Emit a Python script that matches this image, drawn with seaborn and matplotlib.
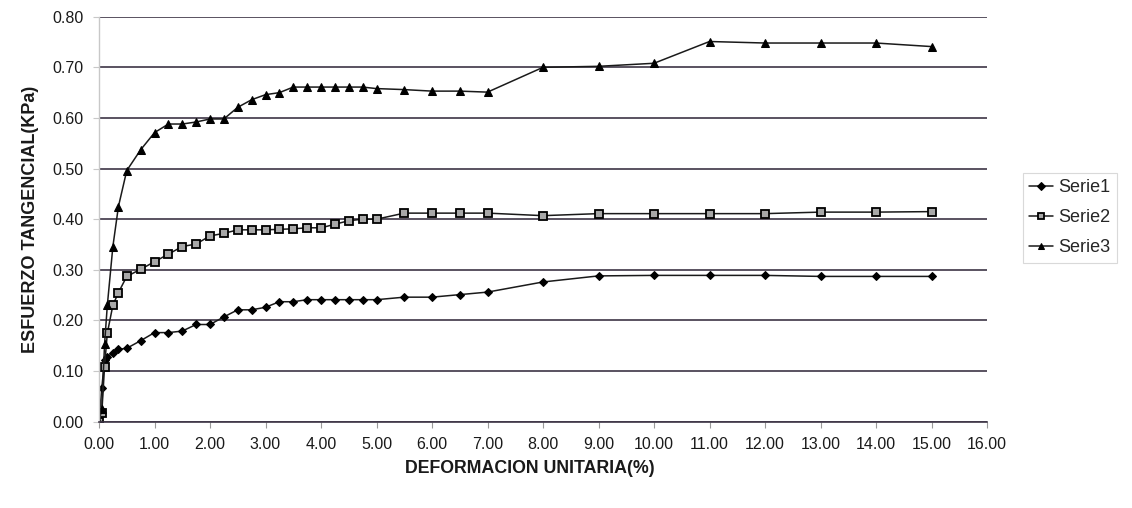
import matplotlib
matplotlib.use("Agg")
import matplotlib.pyplot as plt
import seaborn as sns
import pandas as pd
from matplotlib.ticker import MultipleLocator, FormatStrFormatter

# Deformación unitaria (%) shared by the three shear tests
deformacion = [0, 0.05, 0.1, 0.15, 0.25, 0.35, 0.5,
               0.75, 1.0, 1.25, 1.5, 1.75, 2.0, 2.25, 2.5, 2.75, 3.0, 3.25, 3.5,
               3.75, 4.0, 4.25, 4.5, 4.75, 5.0,
               5.5, 6.0, 6.5, 7.0,
               8, 9, 10, 11, 12, 13, 14, 15]

# Esfuerzo tangencial (kPa) for each series
serie1 = [0, 0.066, 0.122, 0.128, 0.136, 0.143, 0.145,
          0.160, 0.176, 0.176, 0.179, 0.192, 0.192, 0.207, 0.221, 0.221, 0.226, 0.237, 0.237,
          0.241, 0.241, 0.241, 0.241, 0.241, 0.241,
          0.246, 0.246, 0.251, 0.256,
          0.276, 0.288, 0.289, 0.289, 0.289, 0.287, 0.287, 0.287]
serie2 = [0, 0.017, 0.109, 0.175, 0.230, 0.255, 0.287,
          0.301, 0.316, 0.331, 0.346, 0.351, 0.367, 0.372, 0.379, 0.379, 0.379, 0.380, 0.381,
          0.383, 0.383, 0.390, 0.397, 0.400, 0.400,
          0.412, 0.412, 0.412, 0.412,
          0.407, 0.411, 0.411, 0.411, 0.411, 0.414, 0.414, 0.415]
serie3 = [0, 0.025, 0.153, 0.230, 0.346, 0.425, 0.496,
          0.537, 0.571, 0.588, 0.588, 0.592, 0.598, 0.598, 0.621, 0.636, 0.646, 0.650, 0.661,
          0.661, 0.661, 0.661, 0.661, 0.661, 0.658,
          0.656, 0.653, 0.653, 0.651,
          0.700, 0.702, 0.708, 0.751, 0.748, 0.748, 0.748, 0.741]

nombres = ["Serie1", "Serie2", "Serie3"]
xlabel = "DEFORMACION UNITARIA(%)"
ylabel = "ESFUERZO TANGENCIAL(KPa)"

sns.set_theme(style="white")
plt.rcParams["font.family"] = ["Liberation Sans", "DejaVu Sans"]

fig = plt.figure(figsize=(11.32, 5.08), dpi=100)
ax = fig.add_axes([99 / 1132, 1 - 421.7 / 508, (987 - 99) / 1132, (421.7 - 16.7) / 508])

estilos = {
    "Serie1": dict(marker="D", markersize=4.5, markerfacecolor="black", markeredgecolor="black"),
    "Serie2": dict(marker="s", markersize=5.2, markerfacecolor="#a8a8a8", markeredgecolor="black",
                   markeredgewidth=1.3),
    "Serie3": dict(marker="^", markersize=6, markerfacecolor="black", markeredgecolor="black"),
}

for nombre, valores in zip(nombres, [serie1, serie2, serie3]):
    df = pd.DataFrame({"x": deformacion, "y": valores})
    sns.lineplot(data=df, x="x", y="y", ax=ax, color="#1a1a1a", linewidth=1.1,
                 estimator=None, sort=False, label=nombre, **estilos[nombre])

ax.set_xlim(0, 16)
ax.set_ylim(0, 0.8)
ax.xaxis.set_major_locator(MultipleLocator(1))
ax.yaxis.set_major_locator(MultipleLocator(0.1))
ax.xaxis.set_major_formatter(FormatStrFormatter("%.2f"))
ax.yaxis.set_major_formatter(FormatStrFormatter("%.2f"))

ax.grid(axis="y", color="#3d3545", linewidth=1.2)
ax.grid(axis="x", visible=False)
ax.set_axisbelow(True)

for lado in ["top", "right"]:
    ax.spines[lado].set_visible(False)
ax.spines["left"].set_color("#c8c8c8")
ax.spines["left"].set_linewidth(1.0)
ax.spines["bottom"].set_color("#3d3545")
ax.spines["bottom"].set_linewidth(1.2)

ax.tick_params(axis="x", bottom=True, length=4, width=0.8, color="#999999",
               labelsize=11.5, pad=7, labelcolor="#1a1a1a")
ax.tick_params(axis="y", left=True, length=4, width=0.8, color="#c8c8c8",
               labelsize=11.5, pad=7, labelcolor="#1a1a1a")

ax.set_xlabel(xlabel, fontsize=12.8, fontweight="bold", color="#1a1a1a")
ax.set_ylabel(ylabel, fontsize=13, fontweight="bold", labelpad=10, color="#1a1a1a")
ax.xaxis.set_label_coords(0.485, -0.095)

ax.get_legend().remove()
handles, labels = ax.get_legend_handles_labels()
leg = fig.legend(handles, labels, loc="upper left",
                 bbox_to_anchor=(1023 / 1132, 1 - 173 / 508), borderaxespad=0,
                 fontsize=13, frameon=True, fancybox=False, edgecolor="#d0d0d0",
                 handlelength=1.3, handletextpad=0.3, labelspacing=0.72,
                 borderpad=0.35, markerscale=0.8)
leg.get_frame().set_linewidth(0.8)

fig.savefig("out.png", dpi=100, facecolor="white")
